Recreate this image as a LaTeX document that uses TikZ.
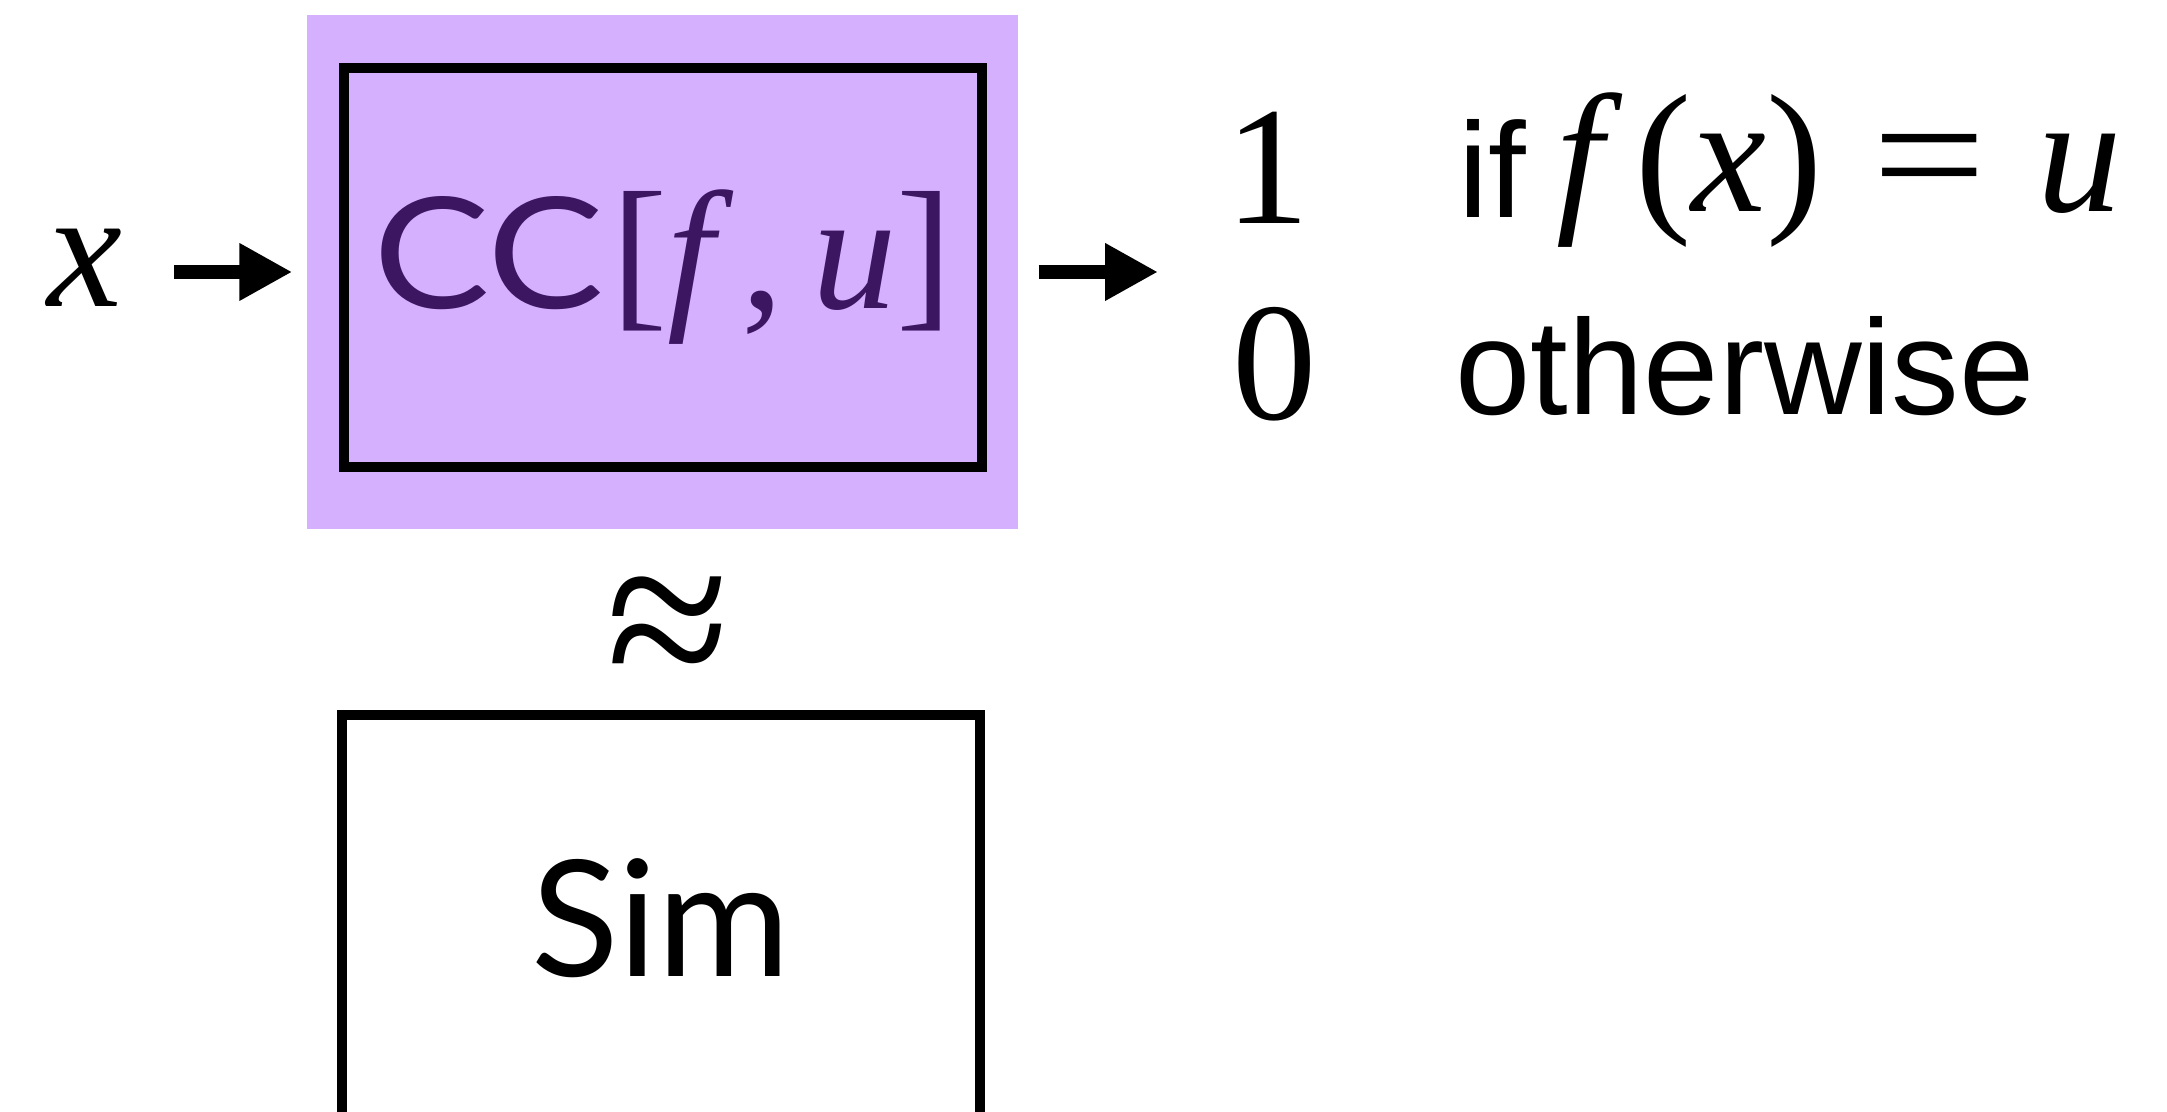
\documentclass[tikz,border=0pt]{standalone}
\usepackage{fontspec}
\setmainfont{Liberation Serif}
\newfontfamily\ccfont{Lato}
\newfontfamily\helvfont{Liberation Sans}
\usetikzlibrary{arrows.meta, positioning}
\definecolor{ccpurple}{HTML}{D5B0FF}
\definecolor{ccink}{HTML}{3C1660}

\begin{document}
\begin{tikzpicture}[
  mathlbl/.style={inner sep=0pt, font=\fontsize{48}{56}\selectfont},
  wordlbl/.style={inner sep=0pt, font=\helvfont\fontsize{38.5}{44}\selectfont},
  blockbox/.style={rectangle, draw=black, line width=1mm,
               minimum width=6.38cm, align=center, inner sep=0pt},
  arrow/.style={-{Triangle[length=5.3mm, width=5.4mm]}, line width=1.35mm},
]
\useasboundingbox (0,0) rectangle (21.67,11.12);
\clip (0,0) rectangle (21.67,11.12);

% purple backdrop with the CC block on it
\node[fill=ccpurple, minimum width=7.11cm, minimum height=5.14cm,
      inner sep=0pt] (cc) at (6.625,8.40) {};
\node[blockbox, minimum height=3.99cm, text=ccink] (ccbox) at (6.63,8.445)
  {{\ccfont\fontsize{44}{54}\selectfont\scalebox{1.13}[1]{CC}}\hspace{0.07cm}%
   {\fontsize{48}{56}\selectfont[\textit{f}\hspace{0.08cm},\,\textit{u}]}};

% input and output
\node[mathlbl, anchor=base] (xin) at (0.85,8.05) {\textit{x}};
\coordinate (outin) at (11.58,8.40);
\draw[arrow, shorten <=5.1mm, shorten >=1.4mm] (xin.east |- cc.west) -- (cc.west);
\draw[arrow, shorten <=2mm] (cc.east) -- (outin);

\node[mathlbl, anchor=base] (one)  at (12.68,8.88) {1};
\node[wordlbl, anchor=base west] (cond) at (14.58,8.94)
  {if\hspace{0.3cm}\raisebox{0.06cm}{\rmfamily\fontsize{48}{56}\selectfont\textit{f}\hspace{0.13cm}(\textit{x})\hspace{0.5cm}\scalebox{1.2}[1]{=}\hspace{0.5cm}\textit{u}}};
\node[mathlbl, anchor=base] (zero) at (12.75,6.92) {0};
\node[wordlbl, anchor=base west] (other) at (14.55,6.97) {otherwise};

% approximation by the simulator
\node[inner sep=0pt, font=\fontsize{64}{70}\selectfont] (approx) at (6.68,4.74)
  {\scalebox{1}[1.05]{≈}};
\node[blockbox, minimum height=4.06cm, font=\ccfont\fontsize{46}{54}\selectfont]
  (sim) at (6.605,1.94) {Sim};
\end{tikzpicture}
\end{document}
